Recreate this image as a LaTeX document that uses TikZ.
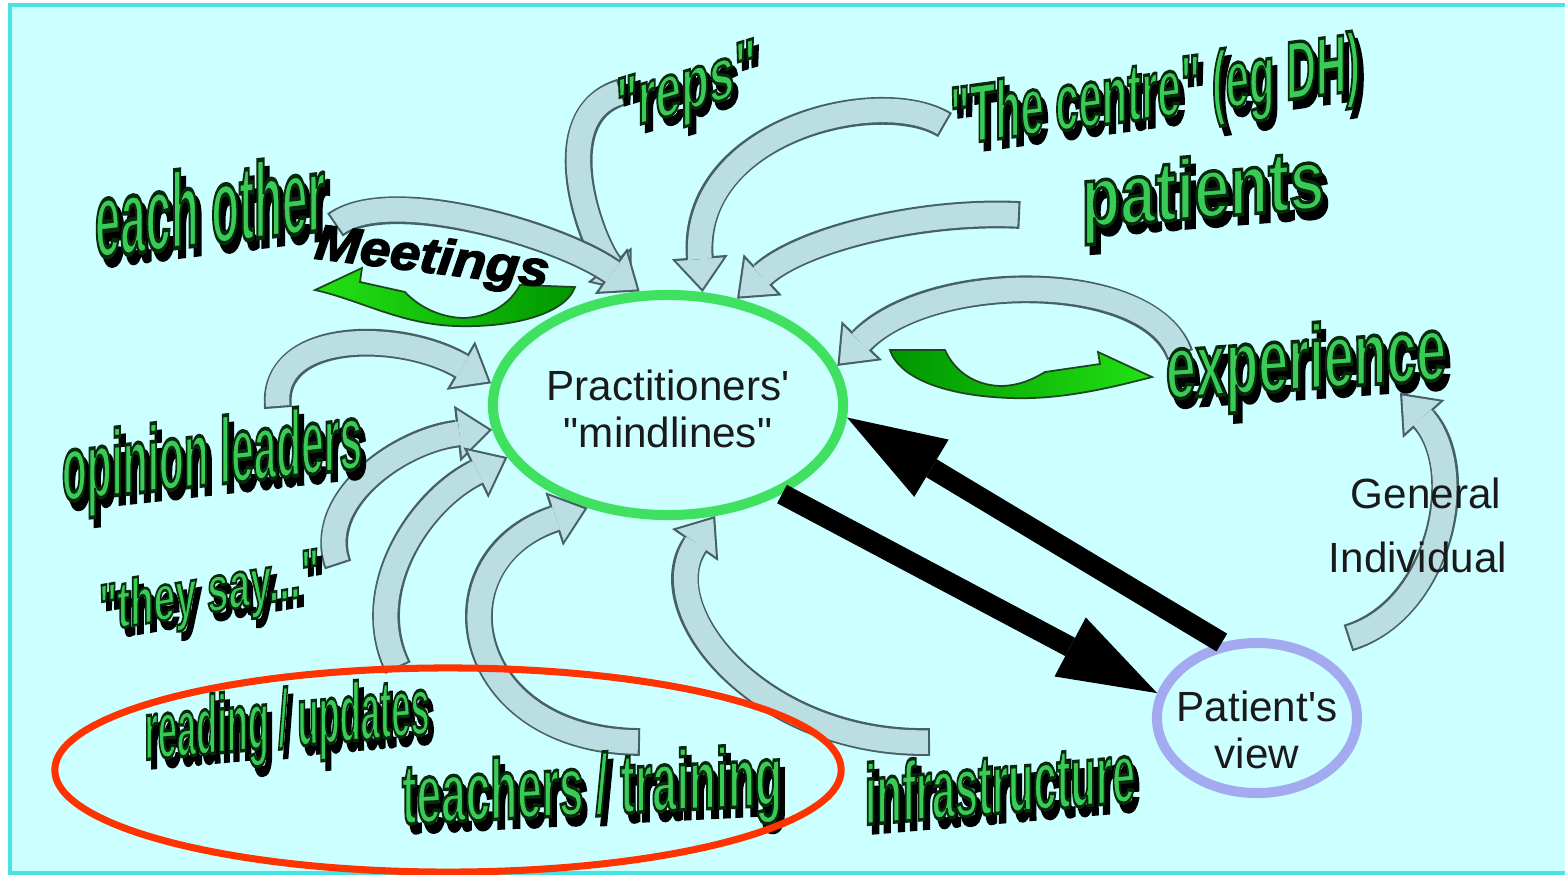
\documentclass[tikz,border=0pt]{standalone}
\usepackage{fontspec}
\usepackage{graphicx}
\usetikzlibrary{arrows.meta,shapes.geometric}
\newfontfamily\lsans{Liberation Sans}
\newfontfamily\waout{Liberation Sans Bold}[FakeBold=4]
\newfontfamily\meetfont{Liberation Sans Bold Italic}[FakeBold=3]
\definecolor{bgc}{RGB}{204,255,255}
\definecolor{bordc}{RGB}{72,228,228}
\definecolor{mindg}{RGB}{64,224,96}
\definecolor{pvc}{RGB}{164,170,240}
\definecolor{redc}{RGB}{255,51,0}
\definecolor{ribfill}{RGB}{186,222,226}
\definecolor{ribline}{RGB}{70,96,100}
\definecolor{wagreen}{RGB}{56,204,86}
\definecolor{gbright}{RGB}{34,226,20}
\definecolor{gdark}{RGB}{0,150,0}
\definecolor{swline}{RGB}{30,70,30}
\definecolor{txt}{RGB}{26,26,26}
\newcommand\wartx[3]{%
  \rlap{\hspace*{0.05cm}\raisebox{-0.09cm}{\resizebox{#1cm}{#2cm}{\color{black}\waout #3}}}%
  \resizebox{#1cm}{#2cm}{\color{wagreen}\special{pdf:literal direct 0.03 0.16 0.05 RG}\waout #3}}
\newcommand\twolines[3]{\makebox[0pt]{\raisebox{#1}[0pt][0pt]{\begin{tabular}{@{}c@{}}#2\\#3\end{tabular}}}}
\newcommand\ribbon[1]{\draw[ribo] #1; \draw[ribi] #1;}
\begin{document}
\begin{tikzpicture}[x=0.01cm,y=-0.01cm,
  mindnode/.style={ellipse, draw=mindg, line width=2.85pt, minimum width=3.5cm, minimum height=2.2cm,
    inner sep=0pt, font=\lsans\fontsize{12}{13.4}\selectfont, text=txt},
  pvnode/.style={ellipse, draw=pvc, line width=2.85pt, minimum width=2.0cm, minimum height=1.5cm,
    inner sep=0pt, font=\lsans\fontsize{12}{13.4}\selectfont, text=txt},
  plain/.style={inner sep=0pt, font=\lsans\fontsize{12}{13.4}\selectfont, text=txt},
  wa/.style={inner sep=0pt},
  ribo/.style={line width=7.9pt, draw=ribline, -{Triangle[length=10pt,width=16pt,line width=0pt]}},
  ribi/.style={line width=6.7pt, draw=ribfill, -{Triangle[length=8.4pt,width=13.5pt,line width=0pt]},
    shorten >=0.96pt, shorten <=0.6pt},
  barrow/.style={line width=5.9pt, draw=black, -{Triangle[length=28pt,width=19pt,line width=0pt]}},
  swirl/.style={draw=swline, line width=0.5pt}
]
\useasboundingbox (0,0) rectangle (1565,875);
\fill[white] (0,0) rectangle (1565,875);
\fill[bgc] (10,5) rectangle (1565,873);
\draw[bordc, line width=0.9pt] (1565,5) -- (10,5) -- (10,873) -- (1565,873);

% central nodes
\node[mindnode] (mind) at (668,405) {\twolines{-0.2cm}{Practitioners'}{"mindlines"}};
\node[pvnode] (pv) at (1257,718) {\twolines{-0.28cm}{Patient's}{view}};

% tail coordinates
\coordinate (t-reps) at (622,92);
\coordinate (t-each) at (335,225);
\coordinate (t-centre) at (945,125);
\coordinate (t-pat) at (1020,215);
\coordinate (t-exp) at (1180,355);
\coordinate (t-gen) at (1348,638);
\coordinate (h-gen) at (1400,393);
\coordinate (t-op) at (278,408);
\coordinate (t-say) at (338,565);
\coordinate (t-read) at (398,668);
\coordinate (t-teach) at (640,742);
\coordinate (t-infra) at (930,742);

% ribbon arrows
\ribbon{(t-reps) .. controls (545,115) and (590,240) .. (mind.108)}
\ribbon{(t-each) .. controls (390,185) and (560,235) .. (mind.104)}
\ribbon{(t-centre) .. controls (880,85) and (690,130) .. (mind.73)}
\ribbon{(t-pat) .. controls (920,210) and (800,240) .. (mind.57)}
\ribbon{(t-exp) .. controls (1150,270) and (930,270) .. (mind.13)}
\ribbon{(t-gen) .. controls (1440,610) and (1470,470) .. (h-gen)}
\ribbon{(t-op) .. controls (270,330) and (400,330) .. (mind.173)}
\ribbon{(t-say) .. controls (315,500) and (400,440) .. (mind.188)}
\ribbon{(t-read) .. controls (360,590) and (420,500) .. (mind.198)}
\ribbon{(t-teach) .. controls (460,740) and (430,560) .. (mind.232)}
\ribbon{(t-infra) .. controls (760,745) and (650,610) .. (mind.293)}

% green swirls
\path[swirl, left color=gbright, right color=gdark]
  (315,290) -- (362,268) -- (360,282) -- (405,292) .. controls (422,310) and (445,318) .. (465,318)
  .. controls (495,316) and (512,300) .. (520,285) -- (575,287)
  .. controls (565,315) and (510,328) .. (455,326) .. controls (400,324) and (360,300) .. (315,290) -- cycle;
\path[swirl, left color=gdark, right color=gbright]
  (890,350) -- (945,350) .. controls (955,372) and (975,385) .. (1000,386)
  .. controls (1020,386) and (1035,378) .. (1045,372) -- (1100,364) -- (1098,352) -- (1152,377)
  .. controls (1110,388) and (1060,400) .. (1010,398) .. controls (950,396) and (900,380) .. (890,350) -- cycle;

% black arrows
\draw[barrow] (pv.115) -- (mind.-4);
\draw[barrow] (mind.-38) -- (pv.166);

% word-art labels
\node[wa, yslant=0.12] (eachother) at (210,210) {\wartx{2.3}{0.78}{each other}};
\node[inner sep=0pt, rotate=-7] (meet) at (432,260) {\resizebox{2.35cm}{0.36cm}{\meetfont Meetings}};
\node[wa, yslant=0.3] (reps) at (686,97) {\wartx{1.4}{0.52}{"reps"}};
\node[wa, yslant=0.135] (centre) at (1155,101) {\wartx{4.1}{0.6}{"The centre" (eg DH)}};
\node[wa, yslant=0.08] (patients) at (1203,200) {\wartx{2.43}{0.62}{patients}};
\node[wa, yslant=0.07] (exper) at (1306,370) {\wartx{2.8}{0.66}{experience}};
\node[wa, yslant=0.11] (opinion) at (212,465) {\wartx{3.0}{0.68}{opinion leaders}};
\node[wa, yslant=0.17] (theysay) at (209,600) {\wartx{2.2}{0.48}{"they say..."}};
\node[wa, yslant=0.09] (reading) at (287,730) {\wartx{2.85}{0.6}{reading / updates}};
\node[wa, yslant=0.05] (teachers) at (592,797) {\wartx{3.8}{0.62}{teachers / training}};
\node[wa, yslant=0.085] (infra) at (1000,787) {\wartx{2.7}{0.62}{infrastructure}};

% plain labels
\node[plain] (general) at (1426,493) {General};
\node[plain] (indiv) at (1418,557) {Individual};

% red highlight
\draw[redc, line width=2pt] (448,770) ellipse [x radius=3.93cm, y radius=1.02cm];
\end{tikzpicture}
\end{document}
